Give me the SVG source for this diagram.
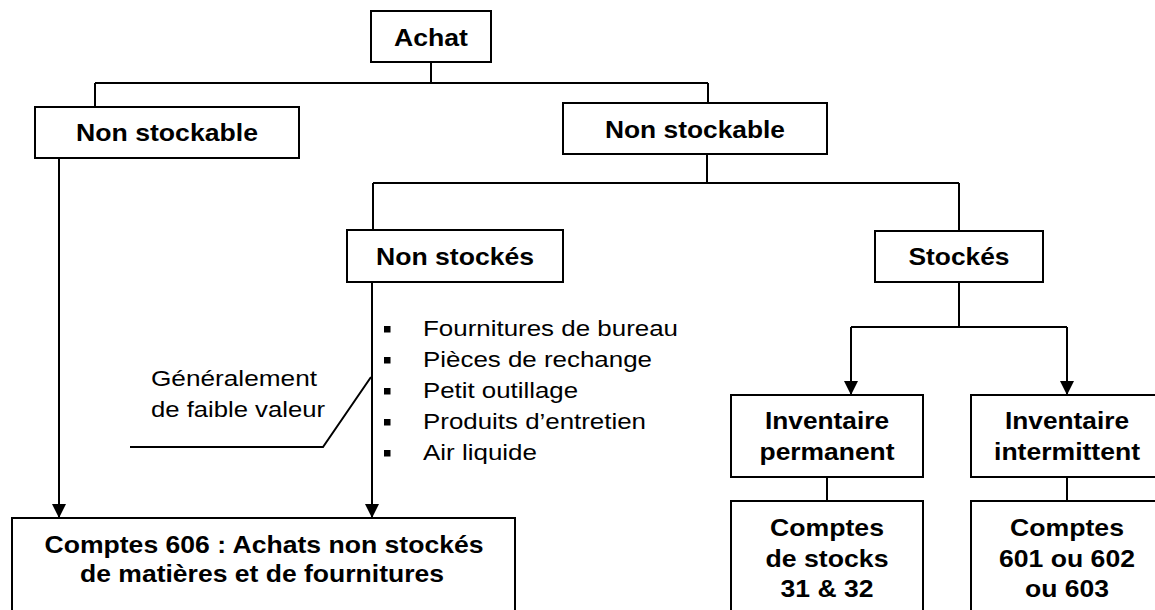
<svg xmlns="http://www.w3.org/2000/svg" width="1155" height="610" viewBox="0 0 1155 610">
<style>
.box{fill:#fff;stroke:#000;stroke-width:2}
.ln{fill:none;stroke:#000;stroke-width:2}
.b{font-family:"Liberation Sans",Arial,sans-serif;font-weight:bold;font-size:24.5px;fill:#000;text-anchor:middle}
.r{font-family:"Liberation Sans",Arial,sans-serif;font-size:22px;fill:#000}
</style>
<defs>
<marker id="arr" markerUnits="userSpaceOnUse" markerWidth="14" markerHeight="14" viewBox="0 0 14 14" refX="14" refY="7" orient="auto"><path d="M0,0 L14,7 L0,14 Z" fill="#000"/></marker>
<clipPath id="listclip"><rect x="370" y="300" width="330" height="164"/></clipPath>
</defs>
<rect width="1155" height="610" fill="#fff"/>
<g id="connectors">
<path class="ln" d="M431,62 V83 M95,83 H708 M95,83 V107 M708,83 V103"/>
<path class="ln" d="M707,154 V183 M373,183 H959 M373,183 V230 M959,183 V231"/>
<path class="ln" d="M959,282 V327 M851,327 H1067"/>
<path class="ln" d="M851,327 V395" marker-end="url(#arr)"/>
<path class="ln" d="M1067,327 V395" marker-end="url(#arr)"/>
<path class="ln" d="M59,158 V518" marker-end="url(#arr)"/>
<path class="ln" d="M372,282 V518" marker-end="url(#arr)"/>
<path class="ln" d="M827,477 V501 M1067,477 V501"/>
<path class="ln" d="M371,377 L323,447 H130" stroke-width="1.5"/>
</g>
<g id="achat"><rect class="box" x="371" y="11" width="120" height="51"/><text class="b" x="431" y="46" textLength="74" lengthAdjust="spacingAndGlyphs">Achat</text></g>
<g id="non-stockable-left"><rect class="box" x="35" y="107" width="264" height="51"/><text class="b" x="167" y="141" textLength="182" lengthAdjust="spacingAndGlyphs">Non stockable</text></g>
<g id="non-stockable-right"><rect class="box" x="563" y="103" width="264" height="51"/><text class="b" x="695" y="138" textLength="180" lengthAdjust="spacingAndGlyphs">Non stockable</text></g>
<g id="non-stockes"><rect class="box" x="347" y="230" width="216" height="52"/><text class="b" x="455" y="265" textLength="158" lengthAdjust="spacingAndGlyphs">Non stockés</text></g>
<g id="stockes"><rect class="box" x="875" y="231" width="168" height="51"/><text class="b" x="959" y="265" textLength="101" lengthAdjust="spacingAndGlyphs">Stockés</text></g>
<g id="inv-permanent"><rect class="box" x="731" y="395" width="192" height="82"/><text class="b" x="827" y="429" textLength="124" lengthAdjust="spacingAndGlyphs">Inventaire</text><text class="b" x="827" y="460" textLength="135" lengthAdjust="spacingAndGlyphs">permanent</text></g>
<g id="inv-intermittent"><rect class="box" x="971" y="395" width="193" height="82"/><text class="b" x="1067" y="429" textLength="124" lengthAdjust="spacingAndGlyphs">Inventaire</text><text class="b" x="1067" y="460" textLength="146" lengthAdjust="spacingAndGlyphs">intermittent</text></g>
<g id="comptes-stocks"><rect class="box" x="731" y="501" width="192" height="120"/><text class="b" x="827" y="536" textLength="114" lengthAdjust="spacingAndGlyphs">Comptes</text><text class="b" x="827" y="567" textLength="123" lengthAdjust="spacingAndGlyphs">de stocks</text><text class="b" x="827" y="597" textLength="93" lengthAdjust="spacingAndGlyphs">31 &amp; 32</text></g>
<g id="comptes-60x"><rect class="box" x="971" y="501" width="193" height="120"/><text class="b" x="1067" y="536" textLength="114" lengthAdjust="spacingAndGlyphs">Comptes</text><text class="b" x="1067" y="567" textLength="136" lengthAdjust="spacingAndGlyphs">601 ou 602</text><text class="b" x="1067" y="597" textLength="84" lengthAdjust="spacingAndGlyphs">ou 603</text></g>
<g id="comptes-606"><rect class="box" x="12" y="518" width="503" height="110"/><text class="b" x="264" y="553" textLength="439" lengthAdjust="spacingAndGlyphs">Comptes 606 : Achats non stockés</text><text class="b" x="262" y="582" textLength="364" lengthAdjust="spacingAndGlyphs">de matières et de fournitures</text></g>
<g id="note"><text class="r" x="151" y="386" textLength="166" lengthAdjust="spacingAndGlyphs">Généralement</text><text class="r" x="151" y="417" textLength="174" lengthAdjust="spacingAndGlyphs">de faible valeur</text></g>
<g id="liste" clip-path="url(#listclip)">
<rect x="384" y="326" width="6.5" height="6.5"/><text class="r" x="423" y="336" textLength="255" lengthAdjust="spacingAndGlyphs">Fournitures de bureau</text>
<rect x="384" y="357" width="6.5" height="6.5"/><text class="r" x="423" y="367" textLength="229" lengthAdjust="spacingAndGlyphs">Pièces de rechange</text>
<rect x="384" y="388" width="6.5" height="6.5"/><text class="r" x="423" y="398" textLength="155" lengthAdjust="spacingAndGlyphs">Petit outillage</text>
<rect x="384" y="419" width="6.5" height="6.5"/><text class="r" x="423" y="429" textLength="223" lengthAdjust="spacingAndGlyphs">Produits d’entretien</text>
<rect x="384" y="450" width="6.5" height="6.5"/><text class="r" x="423" y="460" textLength="114" lengthAdjust="spacingAndGlyphs">Air liquide</text>
</g>
</svg>
